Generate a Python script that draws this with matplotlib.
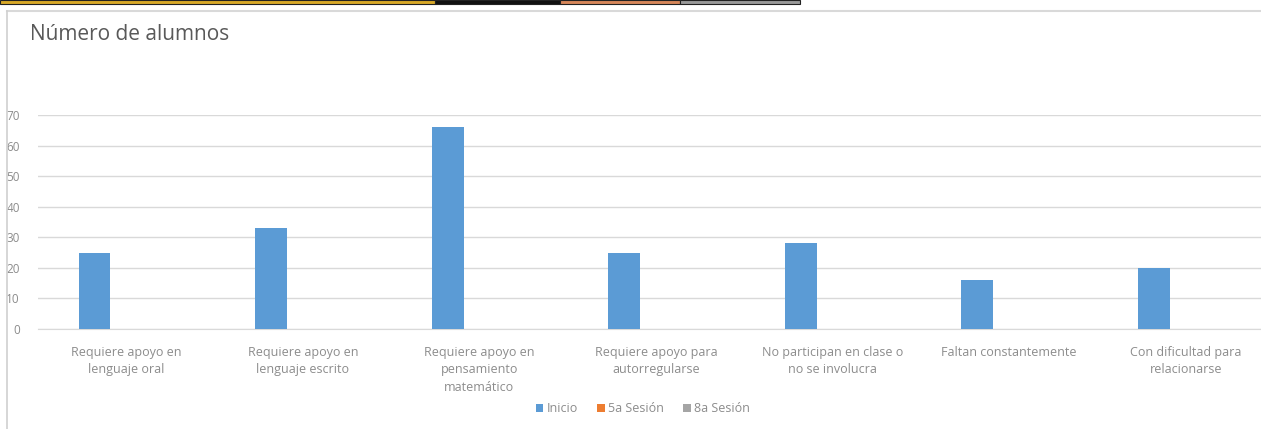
import numpy as np
import matplotlib

matplotlib.use("Agg")
import matplotlib.pyplot as plt
from matplotlib.patches import Rectangle

categories = [
    "Requiere apoyo en\nlenguaje oral",
    "Requiere apoyo en\nlenguaje escrito",
    "Requiere apoyo en\npensamiento\nmatemático",
    "Requiere apoyo para\nautorregularse",
    "No participan en clase o\nno se involucra",
    "Faltan constantemente",
    "Con dificultad para\nrelacionarse",
]
series_names = ["Inicio", "5a Sesión", "8a Sesión"]
inicio = [25, 33, 66, 25, 28, 16, 20]
sesion5 = [np.nan] * 7
sesion8 = [np.nan] * 7
series_colors = ["#5B9BD5", "#ED7D31", "#A5A5A5"]

plt.rcParams["font.family"] = ["Open Sans", "DejaVu Sans"]

W, H = 1261, 429
fig = plt.figure(figsize=(W / 100, H / 100), dpi=100)

# screenshot leftovers: strip on top and chart frame
strip = [(0, 435, "#D9A928"), (435, 560, "#111111"), (560, 680, "#D7875A"), (680, 800, "#9A9A9A")]
for x0, x1, c in strip:
    fig.patches.append(Rectangle((x0 / W, 1 - 4 / H), (x1 - x0) / W, 4 / H,
                                 transform=fig.transFigure, facecolor=c,
                                 edgecolor="#222222", linewidth=0.8))
fig.add_artist(plt.Line2D([7 / W, 1], [1 - 11 / H, 1 - 11 / H], transform=fig.transFigure,
                          color="#d9d9d9", linewidth=1.5))
fig.add_artist(plt.Line2D([7 / W, 7 / W], [0, 1 - 11 / H], transform=fig.transFigure,
                          color="#d0d0d0", linewidth=1.2))

ax = fig.add_axes([38 / W, 100 / H, 1236 / W, 214 / H])

x = np.arange(len(categories))
width = 0.18
for i, (vals, name, col) in enumerate(zip([inicio, sesion5, sesion8], series_names, series_colors)):
    ax.bar(x + (i - 1) * width, vals, width, color=col, label=name, zorder=3)

ax.set_xlim(-0.5, len(categories) - 0.5)
ax.set_ylim(0, 70)
ax.set_yticks(np.arange(0, 71, 10))
ax.grid(axis="y", color="#d9d9d9", linewidth=1, zorder=0)
for s in ["top", "right", "left"]:
    ax.spines[s].set_visible(False)
ax.spines["bottom"].set_color("#d9d9d9")
ax.spines["bottom"].set_zorder(1)
ax.set_xticks(x)
ax.set_xticklabels(categories, fontsize=9, color="#8c8c8c", linespacing=1.45)
ax.tick_params(axis="x", length=0, pad=12)
ax.tick_params(axis="y", length=0, pad=13, labelsize=8.5, labelcolor="#8c8c8c")

fig.text(30 / W, 1 - 35 / H, "Número de alumnos", fontsize=15, color="#595959",
         va="center", ha="left")

ax.legend(loc="center", bbox_to_anchor=(643 / W, 1 - 409 / H), bbox_transform=fig.transFigure,
          ncol=3, frameon=False, fontsize=9, labelcolor="#8c8c8c", handlelength=0.6,
          handleheight=0.6, handletextpad=0.3, columnspacing=1.5)

fig.savefig("out.png", dpi=100)
plt.close()
